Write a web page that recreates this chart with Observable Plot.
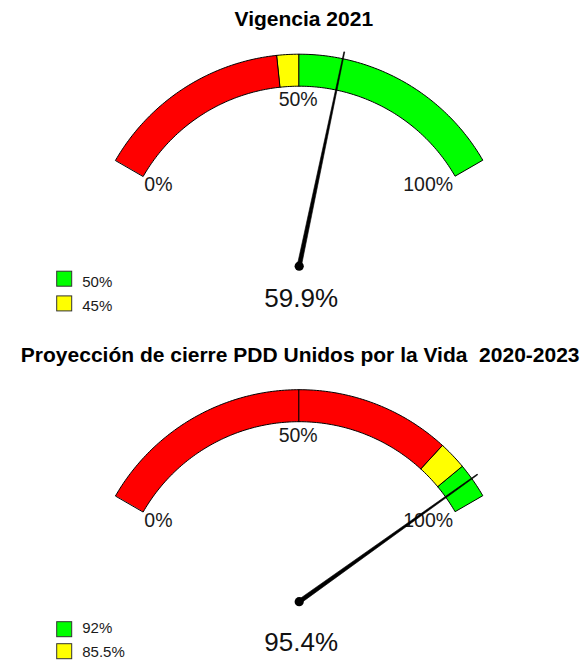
<!DOCTYPE html>
<html><head><meta charset="utf-8">
<script src="https://cdn.jsdelivr.net/npm/d3@7"></script>
<script src="https://cdn.jsdelivr.net/npm/@observablehq/plot@0.6"></script>
<style>
body{margin:0;background:#fff;font-family:"Liberation Sans",Arial,sans-serif;}
#chart svg{display:block;overflow:visible}
</style></head><body><div id="chart"></div>
<script>
// ---- data ----
const titles = ["Vigencia 2021", "Proyección de cierre PDD Unidos por la Vida  2020-2023"];
const needleValues = [59.9, 95.4];
const valueLabels = ["59.9%", "95.4%"];
const yellowFrom = [45, 85.5];
const greenFrom = [50, 92];
const legendGreen = ["50%", "92%"];
const legendYellow = ["45%", "85.5%"];
const tickValues = [0, 50, 100];
const tickLabels = ["0%", "50%", "100%"];
const colorRed = "#ff0000", colorYellow = "#ffff00", colorGreen = "#00ff00";

// ---- layout (pixels) ----
const W = 586;
const panelH = [335, 328];
const K = 212;               // px per radius unit
const CX = 298.7, CY = [265.7, 266.2];
const rOuter = 1, rInner = 180 / 212, needleLen = 219 / 212;
const sweep = 120;           // degrees
const layout = [
  {titleY: 25, titleDx: 4.6, valueDy: 41, sq: [5.5, 30.2], txt: [20.3, 44.3]},
  {titleY: 26, titleDx: 1, valueDy: 48.8, sq: [20.5, 42.5], txt: [31.5, 54.8]}
];

const ang = d3.scaleLinear().domain([0, 100]).range([-sweep / 2, sweep / 2].map(a => a * Math.PI / 180));
const pt = (v, r) => [Math.sin(ang(v)) * r, Math.cos(ang(v)) * r];

function gauge(g) {
  const H = panelH[g], cy = CY[g], L = layout[g];
  const breaks = Array.from(new Set([0, 50, yellowFrom[g], greenFrom[g], 100])).sort((a, b) => a - b);
  const segs = [];
  for (let i = 0; i < breaks.length - 1; i++) {
    const a = breaks[i], b = breaks[i + 1];
    const col = a < yellowFrom[g] ? colorRed : a < greenFrom[g] ? colorYellow : colorGreen;
    const n = Math.max(2, Math.ceil((b - a) * 1.5));
    for (let j = 0; j <= n; j++) { const v = a + (b - a) * j / n; const [x, y] = pt(v, rOuter); segs.push({x, y, seg: i, col}); }
    for (let j = n; j >= 0; j--) { const v = a + (b - a) * j / n; const [x, y] = pt(v, rInner); segs.push({x, y, seg: i, col}); }
  }
  // needle (tapered)
  const v = needleValues[g], t = ang(v);
  const ux = Math.sin(t), uy = Math.cos(t), nx = Math.cos(t), ny = -Math.sin(t);
  const w0 = 2.1 / K, w1 = 0.45 / K;
  const needle = [
    {x: nx * w0, y: ny * w0}, {x: ux * needleLen + nx * w1, y: uy * needleLen + ny * w1},
    {x: ux * needleLen - nx * w1, y: uy * needleLen - ny * w1}, {x: -nx * w0, y: -ny * w0}
  ];
  const ticks = tickValues.map((tv, i) => { const [x, y] = pt(tv, rInner); return {x, y, label: tickLabels[i], v: tv}; });
  const px2x = p => (p - CX) / K, px2y = p => (cy - p) / K;
  const legend = [
    {label: legendGreen[g], col: colorGreen, top: cy + L.sq[0], base: cy + L.txt[0]},
    {label: legendYellow[g], col: colorYellow, top: cy + L.sq[1], base: cy + L.txt[1]}
  ];
  const center = [{x: 0, y: 0}];
  return Plot.plot({
    width: W, height: H, margin: 0,
    x: {domain: [px2x(0), px2x(W)], range: [0, W], axis: null},
    y: {domain: [px2y(H), px2y(0)], range: [H, 0], axis: null},
    style: {fontFamily: "'Liberation Sans', Arial, sans-serif", background: "white"},
    marks: [
      Plot.line(segs, {x: "x", y: "y", z: "seg", fill: "col", stroke: "black", strokeWidth: 1, curve: "linear-closed"}),
      Plot.text(ticks, {filter: d => d.v === 0, x: "x", y: "y", text: "label", textAnchor: "start", lineAnchor: "bottom", dx: 1, dy: 15, fontSize: 19.5, fill: "#1a1a1a"}),
      Plot.text(ticks, {filter: d => d.v === 50, x: "x", y: "y", text: "label", textAnchor: "middle", lineAnchor: "bottom", dx: -1, dy: 20, fontSize: 19.5, fill: "#1a1a1a"}),
      Plot.text(ticks, {filter: d => d.v === 100, x: "x", y: "y", text: "label", textAnchor: "end", lineAnchor: "bottom", dx: -2, dy: 15, fontSize: 19.5, fill: "#1a1a1a"}),
      Plot.line(needle, {x: "x", y: "y", fill: "black", stroke: "black", strokeWidth: 0.6, curve: "linear-closed"}),
      Plot.dot(center, {x: "x", y: "y", r: 4.6, fill: "black", stroke: null}),
      Plot.text([valueLabels[g]], {x: () => 0, y: () => 0, text: d => d, textAnchor: "middle", lineAnchor: "bottom", dx: 2, dy: L.valueDy, fontSize: 26, fill: "#111"}),
      Plot.text([titles[g]], {x: () => 0, y: () => px2y(L.titleY), text: d => d, textAnchor: "middle", lineAnchor: "bottom", dx: L.titleDx, fontSize: 21, fontWeight: "bold", fill: "black"}),
      Plot.rect(legend, {x1: () => px2x(56.7), x2: () => px2x(71.7), y1: d => px2y(d.top), y2: d => px2y(d.top + 15), fill: "col", stroke: "#333", strokeWidth: 1}),
      Plot.text(legend, {x: () => px2x(81.7), y: d => px2y(d.base), text: "label", textAnchor: "start", lineAnchor: "bottom", fontSize: 15, fill: "#1a1a1a"})
    ]
  });
}

const root = document.getElementById("chart");
root.append(gauge(0));
root.append(gauge(1));
</script>
</body></html>
